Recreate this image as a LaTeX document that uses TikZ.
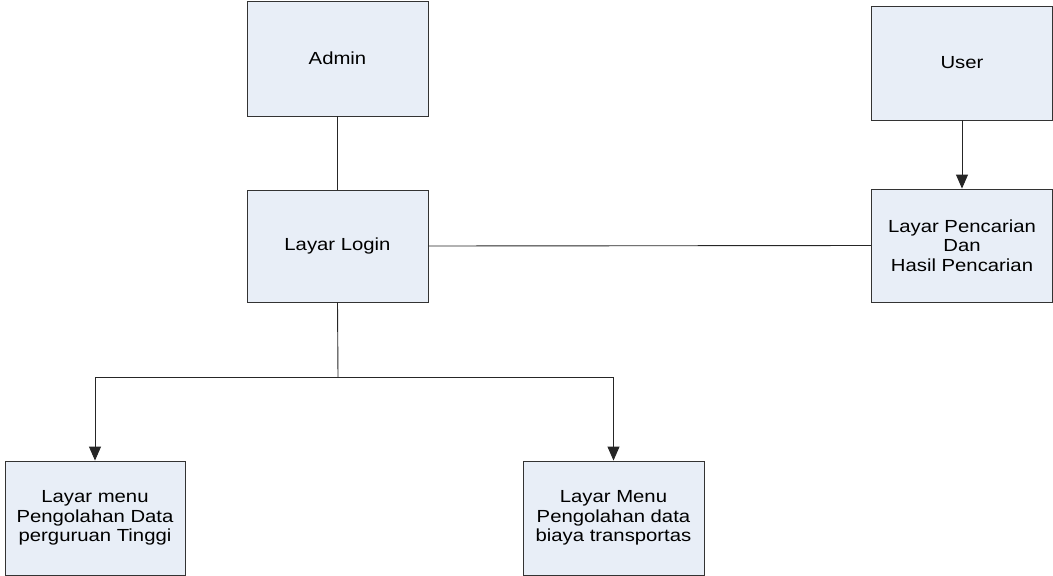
\documentclass[tikz,border=0pt]{standalone}
\usepackage{fontspec}
\setmainfont{Liberation Sans}[FakeStretch=1.16]
\usetikzlibrary{arrows.meta}
\definecolor{boxfill}{HTML}{E8EEF7}
\definecolor{linegray}{HTML}{333333}
\begin{document}
\begin{tikzpicture}[x=1pt,y=-1pt,
  screen/.style={draw=linegray, fill=boxfill, line width=0.9pt, minimum width=181pt,
    inner sep=0pt, align=center, font=\fontsize{17.5}{19.5}\selectfont},
  link/.style={draw=black!85, line width=0.9pt},
  flow/.style={link, -{Triangle[width=12pt,length=14pt]}}]
\useasboundingbox (0,0) rectangle (1053,576);
% screens
\node[screen, minimum height=115pt] (admin) at (337.5,58.5) {Admin};
\node[screen, minimum height=114pt] (user) at (962,63) {User};
\node[screen, minimum height=112pt] (login) at (337.5,246) {Layar Login};
\node[screen, minimum height=113pt] (cari) at (962,245.5) {Layar Pencarian\\Dan\\Hasil Pencarian};
\node[screen, minimum height=114pt, minimum width=180pt] (pt) at (95,518) {Layar menu\\Pengolahan Data\\perguruan Tinggi};
\node[screen, minimum height=114pt] (biaya) at (613.5,518) {Layar Menu\\Pengolahan data\\biaya transportas};
% branch point below the login screen
\coordinate (split) at (338,377);
% connectors
\draw[link] (admin.south) -- (login.north);
\draw[link] (login.east) -- (cari.west);
\draw[flow] (user.south) -- (cari.north);
\draw[link] (login.south) -- (split);
\draw[flow] (split) -| (pt.north);
\draw[flow] (split) -| (biaya.north);
\end{tikzpicture}
\end{document}
